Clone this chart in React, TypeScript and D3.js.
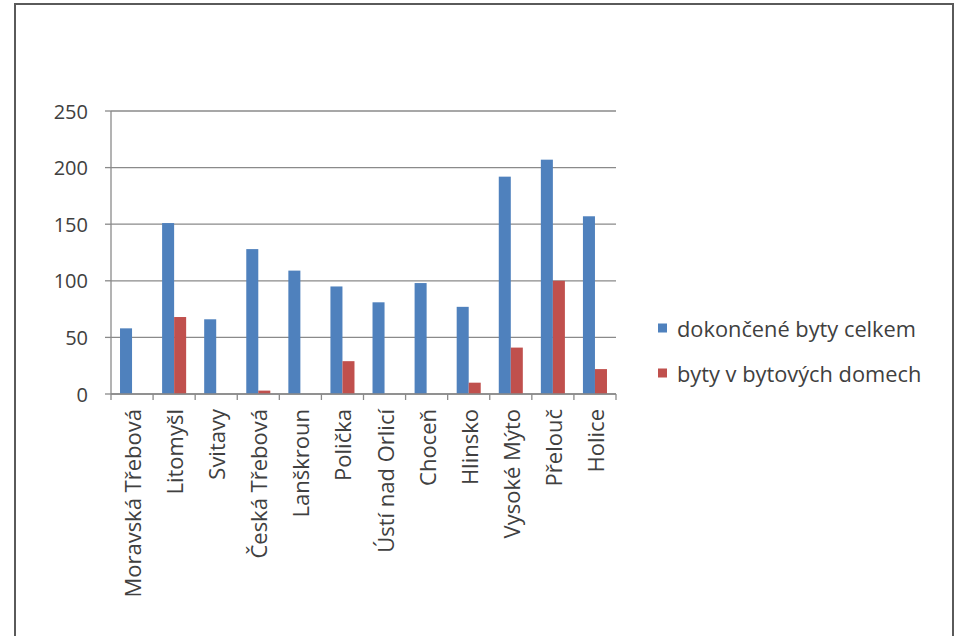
import React from "react";
import * as d3 from "d3";

const categories = [
  "Moravská Třebová",
  "Litomyšl",
  "Svitavy",
  "Česká Třebová",
  "Lanškroun",
  "Polička",
  "Ústí nad Orlicí",
  "Choceň",
  "Hlinsko",
  "Vysoké Mýto",
  "Přelouč",
  "Holice",
];
const dokonceneByty = [58, 151, 66, 128, 109, 95, 81, 98, 77, 192, 207, 157];
const bytyVBytovychDomech = [0, 68, 0, 3, 0, 29, 0, 0, 10, 41, 100, 22];
const seriesNames = ["dokončené byty celkem", "byty v bytových domech"];
const seriesColors = ["#4F81BD", "#C0504D"];
const yTicks = [0, 50, 100, 150, 200, 250];

const W = 963;
const H = 636;
const FONT = "'Open Sans', Lato, sans-serif";
const TICK_FS = 20;
const CAT_FS = 22;
const LEG_FS = 21.8;

export default function App() {
  const left = 111;
  const right = 616;
  const top = 111;
  const bottom = 394;

  const x = d3.scaleBand<string>().domain(categories).range([left, right]).paddingInner(0).paddingOuter(0);
  const inner = d3.scaleBand<number>().domain([0, 1]).range([0, x.bandwidth()]).paddingInner(0).paddingOuter(0.75);
  const y = d3.scaleLinear().domain([0, 250]).range([bottom, top]);

  const series = [dokonceneByty, bytyVBytovychDomech];
  const boundaries = d3.range(categories.length + 1).map((i) => left + i * x.bandwidth());

  return (
    <svg
      width={W}
      height={H}
      style={{ position: "absolute", left: 0, top: 0, display: "block", background: "#fff" }}
      fontFamily={FONT}
    >
      <rect x={15} y={4} width={938} height={640} fill="#fff" stroke="#5a5a5a" strokeWidth={2} />
      {yTicks.map((t) => (
        <line key={"g" + t} x1={left} x2={right} y1={y(t)} y2={y(t)} stroke="#8a8a8a" strokeWidth={1.3} />
      ))}
      <line x1={left} x2={left} y1={top} y2={bottom} stroke="#8a8a8a" strokeWidth={1.3} />
      {yTicks.map((t) => (
        <g key={"yt" + t}>
          <line x1={left - 6} x2={left} y1={y(t)} y2={y(t)} stroke="#8a8a8a" strokeWidth={1.3} />
          <text x={88} y={y(t)} textAnchor="end" dominantBaseline="central" fontSize={TICK_FS} fill="#404040">
            {t}
          </text>
        </g>
      ))}
      {series.map((vals, si) =>
        vals.map((v, i) => (
          <rect
            key={`b${si}-${i}`}
            x={(x(categories[i]) as number) + (inner(si) as number)}
            y={y(v)}
            width={inner.bandwidth()}
            height={bottom - y(v)}
            fill={seriesColors[si]}
          />
        ))
      )}
      <line x1={left} x2={right} y1={bottom} y2={bottom} stroke="#8a8a8a" strokeWidth={1.3} />
      {boundaries.map((b, i) => (
        <line key={"xt" + i} x1={b} x2={b} y1={bottom} y2={bottom + 6} stroke="#8a8a8a" strokeWidth={1.3} />
      ))}
      {categories.map((c) => {
        const cx = (x(c) as number) + x.bandwidth() / 2;
        const ty = 409;
        return (
          <text
            key={"c" + c}
            transform={`translate(${cx},${ty}) rotate(-90)`}
            textAnchor="end"
            dominantBaseline="central"
            fontSize={CAT_FS}
            fill="#404040"
          >
            {c}
          </text>
        );
      })}
      {seriesNames.map((n, i) => {
        const cy = 328 + i * 45;
        return (
          <g key={"l" + i}>
            <rect x={658} y={cy - 4.5} width={9} height={9} fill={seriesColors[i]} />
            <text x={677} y={cy} dominantBaseline="central" fontSize={LEG_FS} fill="#404040">
              {n}
            </text>
          </g>
        );
      })}
    </svg>
  );
}
